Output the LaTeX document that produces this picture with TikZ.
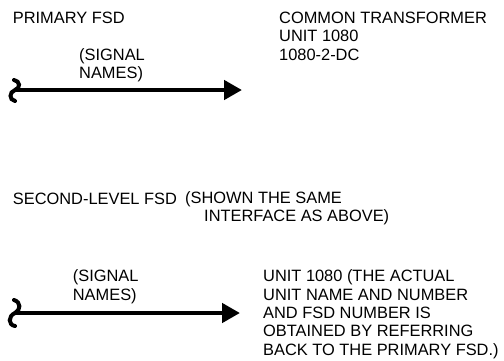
\documentclass[tikz,border=0pt]{standalone}
\usepackage{fontspec}
\setmainfont{Liberation Sans}
\usetikzlibrary{arrows.meta}
\begin{document}
\begin{tikzpicture}[x=1pt, y=-1pt,
    every node/.style={inner sep=0pt, anchor=base west, align=left, font=\fontsize{16.4}{18.3}\selectfont},
    sig/.style={line width=4.5pt, -{Triangle[length=18pt,width=19pt]}},
    brk/.style={line width=4pt, line cap=round}]
            \useasboundingbox (0,0) rectangle (504,360);
            % primary FSD (multi-line nodes sit on their last line)
            \node (prim) at (12.7,23.3) {PRIMARY FSD};
            \node (xfmr) at (279,60) {COMMON TRANSFORMER\\UNIT 1080\\1080-2-DC};
            \node (namesA) at (79,78.3) {(SIGNAL\\NAMES)};
            \coordinate (brkA) at (15,90);
            \coordinate (tipA) at (242,90);
            \draw [brk] (14,80) .. controls (20,81) and (21,88) .. (brkA) .. controls (9,92) and (9,100) .. (15,101);
            \draw [sig] (brkA) -- (tipA);
            % second-level FSD
            \node (second) at (12.7,204) {SECOND-LEVEL FSD};
            \node (shown) at (185,221.7) {(SHOWN THE SAME\\\hspace*{19pt}INTERFACE AS ABOVE)};
            \node (namesB) at (72.7,300) {(SIGNAL\\NAMES)};
            \node (unit) at (263,355) {UNIT 1080 (THE ACTUAL\\UNIT NAME AND NUMBER\\AND FSD NUMBER IS\\OBTAINED BY REFERRING\\BACK TO THE PRIMARY FSD.)};
            \coordinate (brkB) at (15,313);
            \coordinate (tipB) at (240,313);
            \draw [brk] (14,300) .. controls (21,302) and (21,310) .. (brkB) .. controls (8,316) and (8,325) .. (15,326);
            \draw [sig] (brkB) -- (tipB);
        \end{tikzpicture}
\end{document}
